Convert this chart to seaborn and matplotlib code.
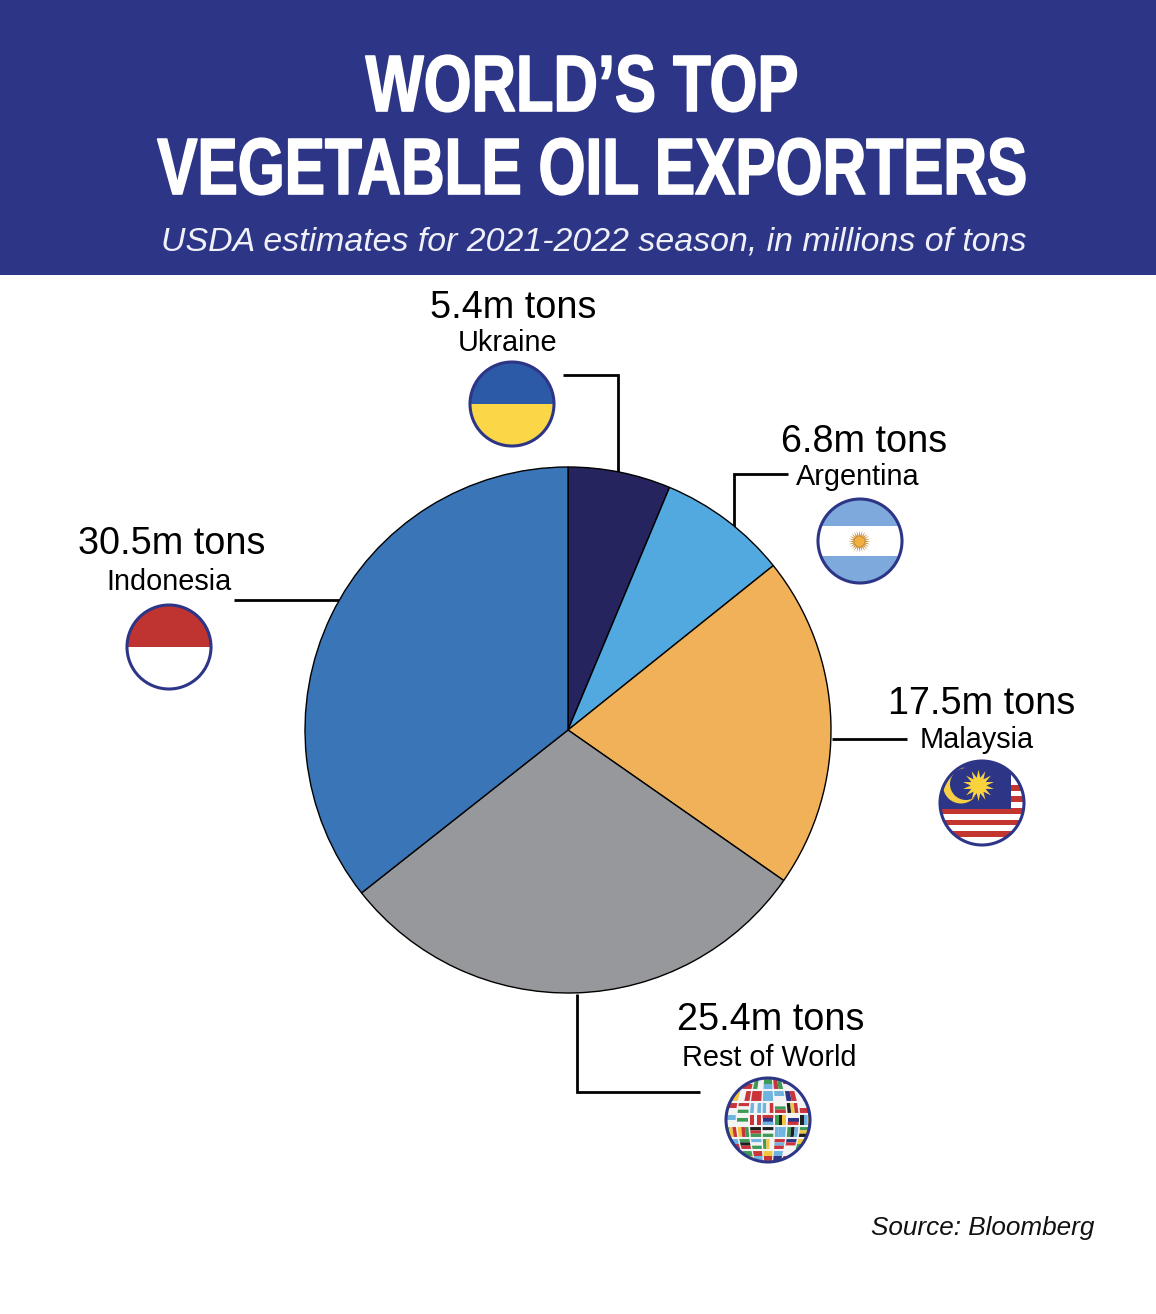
import numpy as np
import matplotlib
matplotlib.use('Agg')
import matplotlib.pyplot as plt
from matplotlib.patches import Circle, Polygon, Rectangle
from matplotlib.patheffects import AbstractPathEffect
from matplotlib.transforms import Affine2D
import seaborn as sns

# data, clockwise from the top
countries = ['Ukraine', 'Argentina', 'Malaysia', 'Rest of World', 'Indonesia']
tons = [5.4, 6.8, 17.5, 25.4, 30.5]
slice_colors = ['#25245e', '#52a9df', '#f0b158', '#97989b', '#3a75b7']

title_lines = ['WORLD\u2019S TOP', 'VEGETABLE OIL EXPORTERS']
subtitle = 'USDA estimates for 2021-2022 season, in millions of tons'
source = 'Source: Bloomberg'

# label anchor (value label centre x, y, then country label centre x, y)
label_pos = {
    'Ukraine': (513, 308, 508, 343),
    'Argentina': (864, 442, 858, 477),
    'Malaysia': (982, 704, 977, 740),
    'Rest of World': (771, 1020, 769, 1058),
    'Indonesia': (172, 544, 169, 582),
}
leaders = [
    ([563, 618, 618], [375, 375, 472]),
    ([788, 734, 734], [474, 474, 527]),
    ([832, 907], [739, 739]),
    ([577, 577, 700], [994, 1092, 1092]),
    ([234, 340], [600, 600]),
]
flag_pos = {
    'Ukraine': (512, 404),
    'Argentina': (860, 541),
    'Malaysia': (982, 803),
    'Rest of World': (768, 1120),
    'Indonesia': (169, 647),
}

# small flags on the globe, h/v = band direction, one letter per band
globe_cells = [
    ['v:rw', 'h:wr', 'v:gw', 'h:gl', 'v:rg', 'h:rw', 'v:gr'],
    ['v:gy', 'v:wr', 'h:rr', 'h:ll', 'h:lw', 'v:nr', 'v:wr'],
    ['h:rw', 'h:rwg', 'v:lwl', 'v:lwr', 'h:wgr', 'v:kyr', 'h:wr'],
    ['h:lw', 'h:wgw', 'v:rwr', 'h:rnl', 'v:gky', 'h:wnr', 'v:kly'],
    ['v:gyr', 'v:yrg', 'h:krg', 'h:kwg', 'v:lll', 'v:gkl', 'h:gyk'],
    ['h:lr', 'h:gkr', 'h:lwg', 'v:gyw', 'h:rlr', 'h:nrw', 'h:yg'],
    ['h:yr', 'h:gy', 'h:rl', 'h:yr', 'h:ln', 'h:wr', 'h:rg'],
]
band_colors = {'r': '#c8343a', 'w': '#f4f4f4', 'g': '#3f9a58', 'b': '#3470b5',
               'y': '#f2c63d', 'k': '#1f1f1f', 'l': '#6fb3e0', 'n': '#2d3587'}

sns.set_theme(style='white')
plt.rcParams['font.family'] = ['Liberation Sans', 'DejaVu Sans']

NAVY = '#2d3587'
R = 42
HEIGHT = 1314


class Squeeze(AbstractPathEffect):
    # no condensed font installed, so reshape the glyphs around the text anchor
    def __init__(self, cx, cy, sx, sy):
        super().__init__()
        self.cx, self.cy = cx, cy
        self.sx, self.sy = sx, sy

    def draw_path(self, renderer, gc, tpath, affine, rgbFace=None):
        reshape = (affine + Affine2D().translate(-self.cx, -self.cy)
                   .scale(self.sx, self.sy).translate(self.cx, self.cy))
        gc0 = renderer.new_gc()
        gc0.copy_properties(gc)
        gc0.set_linewidth(1.2)
        gc0.set_foreground('white')
        renderer.draw_path(gc0, tpath, reshape, rgbFace)
        gc0.restore()


def narrow_title(x, y, s, sx):
    t = ax.text(x, y, s, color='white', fontsize=54, fontweight='bold', ha='center', va='baseline')
    t.set_path_effects([Squeeze(x, HEIGHT - y, sx, 1.065)])
    return t


fig = plt.figure(figsize=(11.56, 13.14), dpi=100, facecolor='white')
ax = fig.add_axes([0, 0, 1, 1])
ax.set_xlim(0, 1156)
ax.set_ylim(HEIGHT, 0)
ax.axis('off')

ax.add_patch(Rectangle((0, 0), 1156, 275, color=NAVY, lw=0))
narrow_title(582, 111, title_lines[0], 0.82)
narrow_title(592, 194, title_lines[1], 0.805)
ax.text(594, 242, subtitle, color='#f0f1f8', fontsize=24.4, style='italic', ha='center', va='center')
ax.text(1094, 1228, source, color='#111111', fontsize=18.8, style='italic', ha='right', va='center')

# pie on its own axes, sized to the circle
pie_ax = fig.add_axes([305 / 1156, 1 - 993 / 1314, 526 / 1156, 526 / 1314])
pie_ax.pie(tons, colors=slice_colors, startangle=90, counterclock=False,
           wedgeprops={'edgecolor': 'black', 'linewidth': 1.0, 'clip_on': False})
pie_ax.set_xlim(-1, 1)
pie_ax.set_ylim(-1, 1)

for xs, ys in leaders:
    ax.plot(xs, ys, color='black', lw=2.0, solid_joinstyle='miter', solid_capstyle='butt')

for name, value in zip(countries, tons):
    vx, vy, cx, cy = label_pos[name]
    ax.text(vx, vy, f'{value}m tons', color='black', fontsize=27.2, ha='center', va='center')
    ax.text(cx, cy, name, color='black', fontsize=20.8, ha='center', va='center')


def flag_disc(name):
    x, y = flag_pos[name]
    clip = Circle((x, y), R, transform=ax.transData)
    return x, y, clip


def add(patch, clip):
    ax.add_patch(patch)
    patch.set_clip_path(clip)


def ring(x, y):
    ax.add_patch(Circle((x, y), R, fc='none', ec=NAVY, lw=2.2, zorder=6))


# Ukraine
x, y, clip = flag_disc('Ukraine')
add(Rectangle((x - R, y - R), 2 * R, R, color='#2c5aa6', lw=0), clip)
add(Rectangle((x - R, y), 2 * R, R, color='#fbd747', lw=0), clip)
ring(x, y)

# Indonesia
x, y, clip = flag_disc('Indonesia')
add(Rectangle((x - R, y - R), 2 * R, R, color='#bf3431', lw=0), clip)
add(Rectangle((x - R, y), 2 * R, R, color='white', lw=0), clip)
ring(x, y)

# Argentina
x, y, clip = flag_disc('Argentina')
add(Rectangle((x - R, y - R), 2 * R, 2 * R, color='#7ea9dc', lw=0), clip)
add(Rectangle((x - R, y - 15), 2 * R, 30, color='white', lw=0), clip)
ax.scatter([x - 1], [y], marker=(24, 1, 0), s=260, color='#c98f3c', lw=0, zorder=4)
ax.scatter([x - 1], [y], s=50, color='#f0b13c', lw=0, zorder=5)
ring(x, y)

# Malaysia
x, y, clip = flag_disc('Malaysia')
add(Rectangle((x - R, y - R), 2 * R, 2 * R, color='white', lw=0), clip)
for k in range(0, 10, 2):
    add(Rectangle((x - R, y - 24 + k * 5.8 + 5.8), 2 * R, 5.8, color='#c2362f', lw=0), clip)
add(Rectangle((x - R, y - R), 71, 48, color=NAVY, lw=0), clip)
add(Circle((961, 785.5), 18, color='#f6cf45', lw=0), clip)
add(Circle((966, 784), 16, color=NAVY, lw=0), clip)
ax.scatter([978], [785], marker=(14, 1, 0), s=520, color='#fad33c', lw=0, zorder=5)
ring(x, y)

# Rest of World, flags bent onto a ball
x, y, clip = flag_disc('Rest of World')
add(Circle((x, y), R, color='#f4f4f4', lw=0), clip)
v_edges = np.linspace(-1, 1, len(globe_cells) + 1)
u_edges = np.linspace(-1.05, 1.05, len(globe_cells[0]) + 1)


def sphere(v, u):
    return x + R * u * (1 - 0.3 * v ** 2), y + R * v


for i, row in enumerate(globe_cells):
    v0, v1 = v_edges[i] + 0.025, v_edges[i + 1] - 0.025
    for j, cell in enumerate(row):
        u0, u1 = u_edges[j] + 0.02, u_edges[j + 1] - 0.02
        kind, bands = cell.split(':')
        for b, letter in enumerate(bands):
            f0, f1 = b / len(bands), (b + 1) / len(bands)
            if kind == 'h':
                a0, a1 = v0 + (v1 - v0) * f0, v0 + (v1 - v0) * f1
                l0, l1 = u0, u1
            else:
                a0, a1 = v0, v1
                l0, l1 = u0 + (u1 - u0) * f0, u0 + (u1 - u0) * f1
            pts = [sphere(a0, l0), sphere(a0, l1), sphere(a1, l1), sphere(a1, l0)]
            add(Polygon(pts, color=band_colors[letter], lw=0), clip)
ring(x, y)

fig.savefig('out.png', dpi=100)
